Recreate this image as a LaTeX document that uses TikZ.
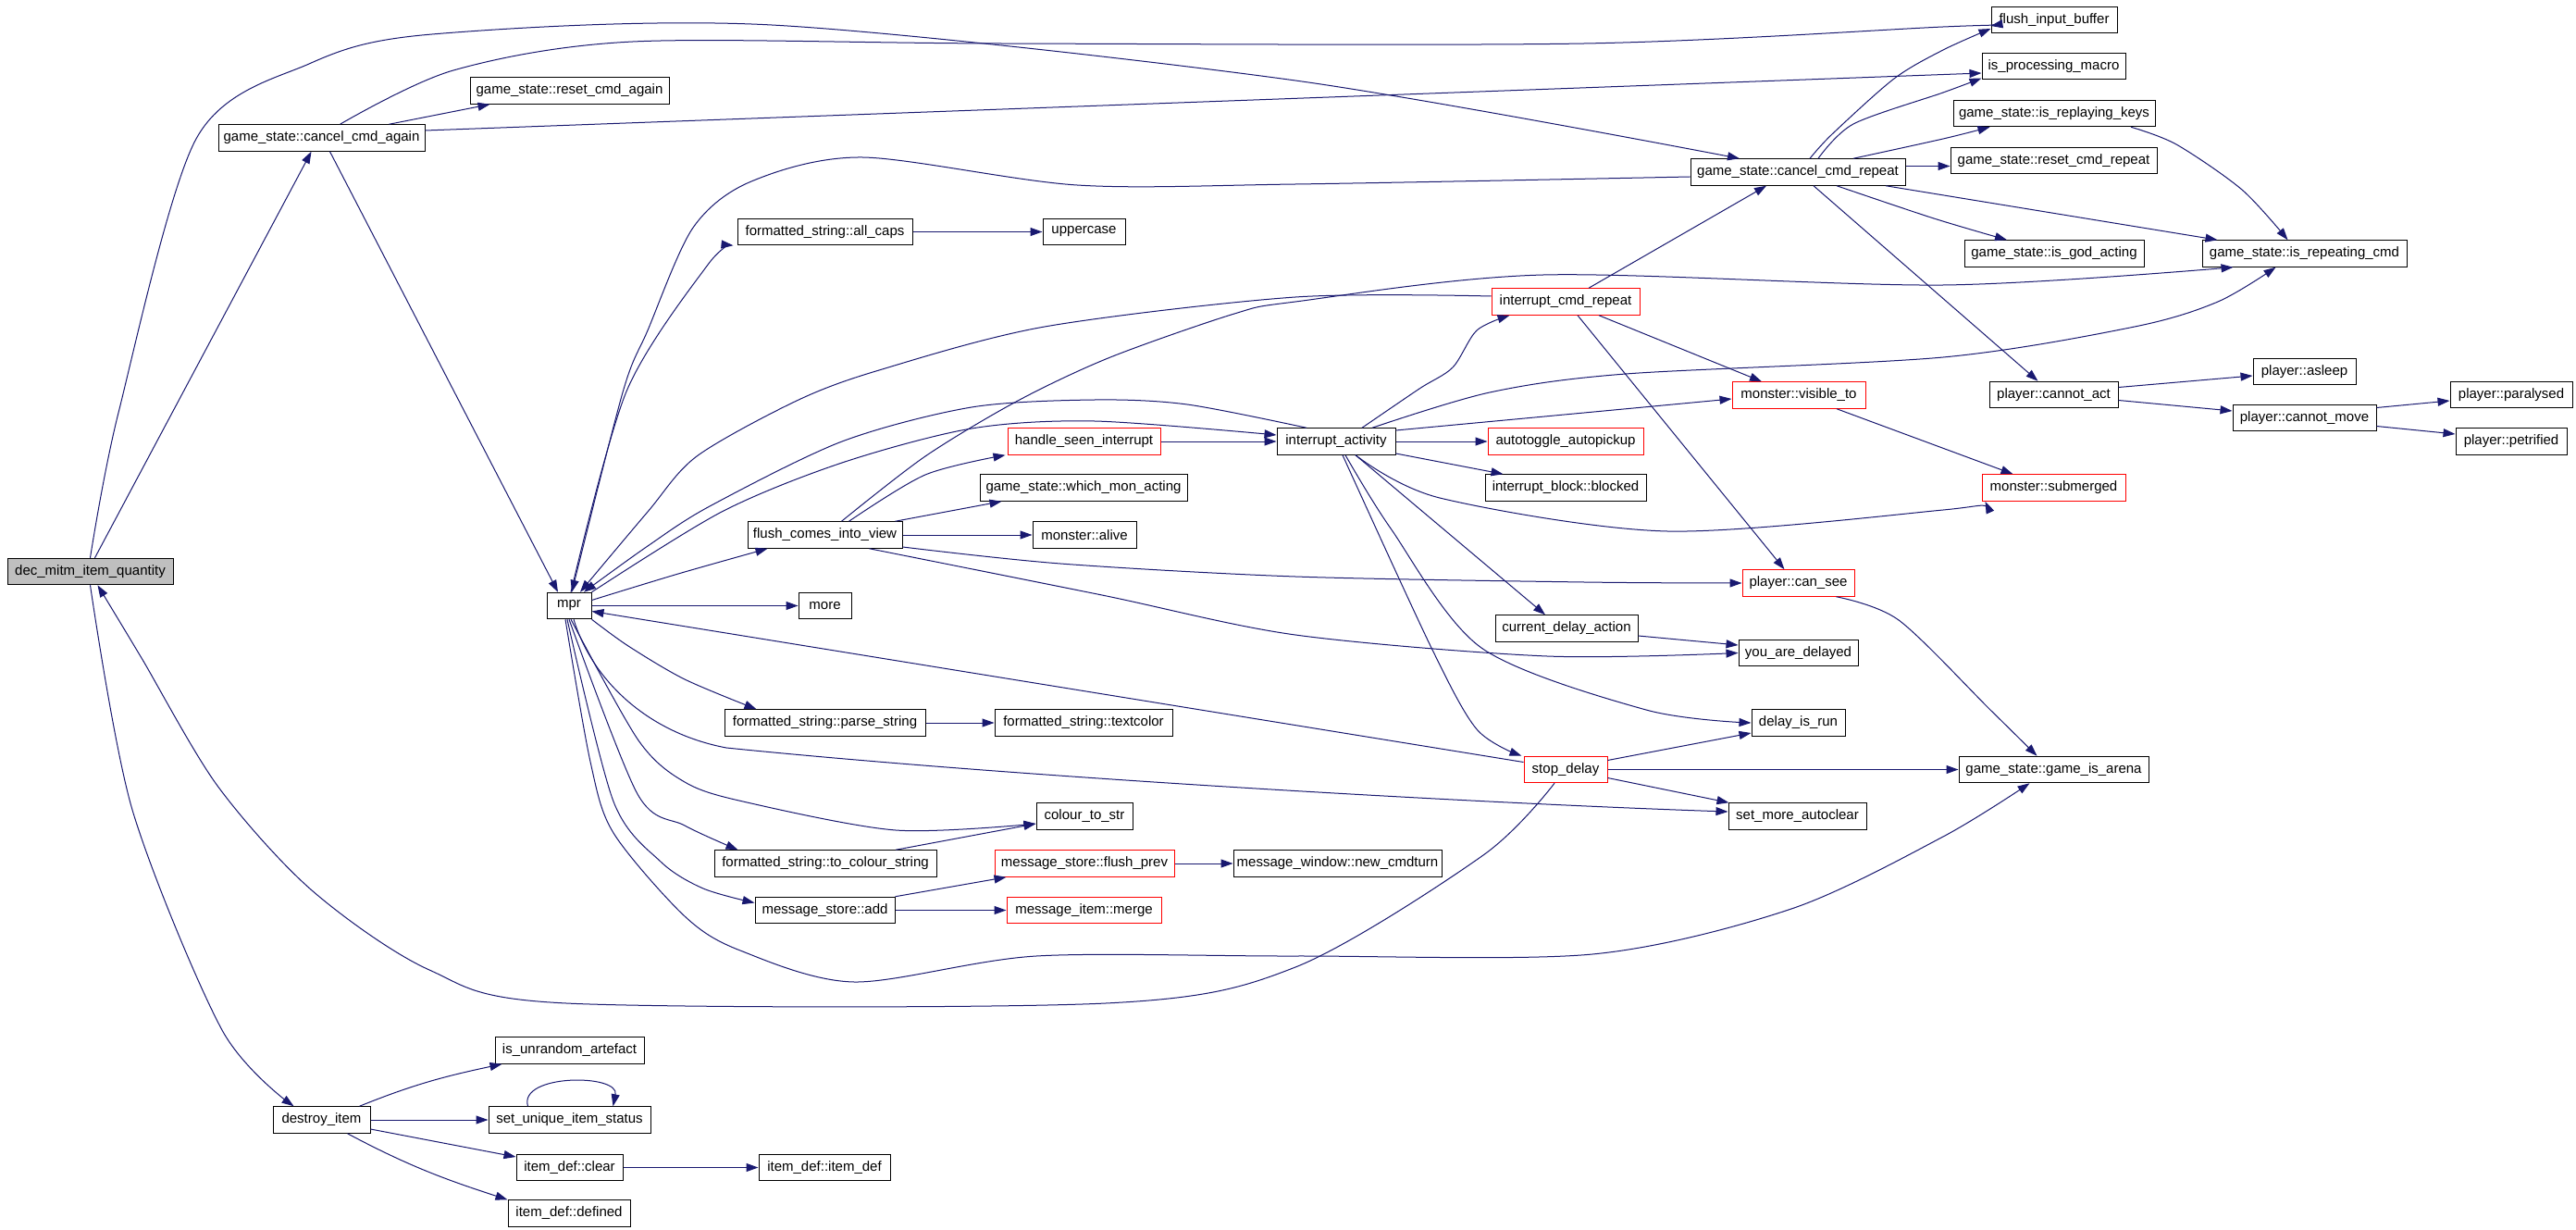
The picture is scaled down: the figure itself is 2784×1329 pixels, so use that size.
\documentclass[tikz,border=0pt]{standalone}
\usepackage{fontspec}
\setmainfont{Liberation Sans}
\usetikzlibrary{arrows.meta}
\definecolor{callblue}{HTML}{191970}
\tikzset{fn/.style={draw, line width=1pt, minimum width=#1, minimum height=28.5,
         inner sep=0pt, font=\fontsize{15}{18}\selectfont},
         fn/.default={100},
         fnred/.style={fn=#1, draw=red},
         call/.style={callblue, line width=1pt, -{Triangle[length=13pt,width=9pt]}}}

\begin{document}
\begin{tikzpicture}[x=1pt,y=-1pt]
  \fill[white] (0,0) rectangle (2784,1329);

  \node[fn=179, fill=black!25] (dec) at (97.5,617.5) {dec\_mitm\_item\_quantity};
  \node[fn=223] (cca) at (347.5,149) {game\_state::cancel\_cmd\_again};
  \node[fn=215] (rca) at (615.5,98) {game\_state::reset\_cmd\_again};
  \node[fn=48] (mpr) at (615,654.5) {mpr};
  \node[fn=105] (destroy) at (347.5,1210) {destroy\_item};
  \node[fn=161] (unrand) at (615.5,1135) {is\_unrandom\_artefact};
  \node[fn=175] (setuniq) at (615.5,1210) {set\_unique\_item\_status};
  \node[fn=115] (clear) at (615.5,1261.5) {item\_def::clear};
  \node[fn=132] (defined) at (615,1311) {item\_def::defined};
  \node[fn=189] (allcaps) at (891.5,250.5) {formatted\_string::all\_caps};
  \node[fn=89] (upper) at (1171.5,250.5) {uppercase};
  \node[fnred=165] (hsi) at (1171.5,477) {handle\_seen\_interrupt};
  \node[fn=224] (wma) at (1171,527) {game\_state::which\_mon\_acting};
  \node[fn=167] (fciv) at (891.5,578) {flush\_comes\_into\_view};
  \node[fn=112] (alive) at (1172,578) {monster::alive};
  \node[fn=57] (more) at (891.5,654.5) {more};
  \node[fn=217] (parse) at (891.5,781) {formatted\_string::parse\_string};
  \node[fn=192] (textcol) at (1171,781) {formatted\_string::textcolor};
  \node[fn=104] (c2s) at (1172,882) {colour\_to\_str};
  \node[fn=240] (tcs) at (892,933) {formatted\_string::to\_colour\_string};
  \node[fnred=194] (fprev) at (1172,933) {message\_store::flush\_prev};
  \node[fn=225] (newturn) at (1445.5,933) {message\_window::new\_cmdturn};
  \node[fn=151] (msadd) at (891.5,983.5) {message\_store::add};
  \node[fnred=167] (merge) at (1171.5,983.5) {message\_item::merge};
  \node[fn=142] (itemdef) at (891,1261.5) {item\_def::item\_def};
  \node[fn=232] (ccr) at (1943,186) {game\_state::cancel\_cmd\_repeat};
  \node[fnred=160] (icr) at (1692,326) {interrupt\_cmd\_repeat};
  \node[fnred=144] (vis) at (1944,427) {monster::visible\_to};
  \node[fn=128] (ia) at (1444,477) {interrupt\_activity};
  \node[fnred=168] (autopick) at (1692,477) {autotoggle\_autopickup};
  \node[fn=174] (blocked) at (1692,527) {interrupt\_block::blocked};
  \node[fnred=121] (cansee) at (1943.5,630) {player::can\_see};
  \node[fn=154] (cda) at (1693,679) {current\_delay\_action};
  \node[fn=129] (yad) at (1943.5,705.5) {you\_are\_delayed};
  \node[fn=101] (dir) at (1943.5,781) {delay\_is\_run};
  \node[fnred=90] (stop) at (1692,831.5) {stop\_delay};
  \node[fn=149] (sma) at (1942.5,882) {set\_more\_autoclear};
  \node[fn=136] (fib) at (2220,21.5) {flush\_input\_buffer};
  \node[fn=155] (ipm) at (2219.5,71.5) {is\_processing\_macro};
  \node[fn=218] (irk) at (2220,122.5) {game\_state::is\_replaying\_keys};
  \node[fn=223] (rcr) at (2219.5,173.5) {game\_state::reset\_cmd\_repeat};
  \node[fn=194] (igod) at (2220,274) {game\_state::is\_god\_acting};
  \node[fn=221] (irc) at (2490.5,274) {game\_state::is\_repeating\_cmd};
  \node[fn=111] (asleep) at (2490.5,401.5) {player::asleep};
  \node[fn=139] (cact) at (2219.5,426.5) {player::cannot\_act};
  \node[fn=155] (cmove) at (2490.5,451.5) {player::cannot\_move};
  \node[fn=132] (para) at (2714,426.5) {player::paralysed};
  \node[fn=120] (petri) at (2714,477) {player::petrified};
  \node[fnred=155] (subm) at (2219.5,527) {monster::submerged};
  \node[fn=205] (arena) at (2219.5,831.5) {game\_state::game\_is\_arena};

  \begin{scope}[call]
    \draw ([xshift=5]dec.north) -- ([xshift=-11]cca.south);
    \draw plot[smooth] coordinates {(dec.north) (128,446) (212,150) (334,69) (467,37) (834,27) (1400,87) ([xshift=-63]ccr.north)};
    \draw plot[smooth] coordinates {(dec.south) (143,875) (240,1113) ([xshift=-30]destroy.north)};
    \draw plot[smooth] coordinates {([xshift=-12]stop.south) (1603,924) (1400,1045) (1195,1084) (612,1084) (464,1048) (337,962) (235,849) (153,711) ([xshift=8]dec.south)};

    \draw plot[smooth] coordinates {([xshift=20]cca.north) (490,76) (684,45) (1080,47) (1712,47) (2100,29) ([yshift=-6.5]fib.west)};
    \draw ([xshift=73]cca.north) -- ([xshift=22]rca.south west);
    \draw ([yshift=8]cca.east) -- ([yshift=-7.5]ipm.west);
    \draw ([xshift=9]cca.south) -- ([xshift=-12]mpr.north);

    \draw ([xshift=41]destroy.north) to[out=22,in=192] ([xshift=8]unrand.south west);
    \draw (destroy.east) -- (setuniq.west);
    \draw ([yshift=-10]destroy.east) -- ([yshift=11.5]clear.west);
    \draw ([xshift=28]destroy.south) to[out=-28,in=162] (defined.north west);
    \draw ([xshift=-45]setuniq.north) .. controls (560,1160) and (670,1160) .. ([xshift=47]setuniq.north);
    \draw (clear.east) -- (itemdef.west);

    \draw plot[smooth] coordinates {([xshift=2]mpr.north) (677,423) (765,286) ([xshift=-4]allcaps.south west)};
    \draw plot[smooth] coordinates {([yshift=6]mpr.east) (733,620) ([xshift=22]fciv.south west)};
    \draw (mpr.east) -- (more.west);
    \draw plot[smooth] coordinates {(mpr.north east) (780,553) (910,500) (1050,463) (1183,455) ([yshift=7]ia.west)};
    \draw plot[smooth] coordinates {(mpr.south east) (679,698) (740,734) ([xshift=35]parse.north west)};
    \draw ([xshift=5]mpr.south) .. controls (640,735) and (700,792) .. (785,808) .. controls (1100,840) and (1600,868) .. ([yshift=5]sma.west);
    \draw plot[smooth] coordinates {([xshift=2]mpr.south) (690,800) (740,845) (803,866) (968,897) ([yshift=-8]c2s.west)};
    \draw plot[smooth] coordinates {(mpr.south) (689,858) (740,892) ([xshift=26]tcs.north west)};
    \draw plot[smooth] coordinates {([xshift=-2]mpr.south) (663,866) (714,931) (760,960) ([yshift=8]msadd.west)};
    \draw plot[smooth] coordinates {([xshift=-4]mpr.south) (638,823) (663,900) (740,990) (800,1027) (923,1061) (1120,1033) (1400,1033) (1721,1031) (1936,982) (2100,904) ([xshift=-26]arena.south)};

    \draw plot[smooth] coordinates {([yshift=-5]ccr.west) (1400,199) (1164,200) (932,170) (812,196) (749,246) (700,357) (673,424) ([xshift=3]mpr.north)};
    \draw plot[smooth] coordinates {([yshift=6]icr.west) (1400,321) (1129,353) (950,400) (861,433) (753,493) (700,553) ([xshift=12]mpr.north)};
    \draw plot[smooth] coordinates {([xshift=-32]ia.north) (1283,437) (1183,432) (1050,440) (910,477) (767,547) (700,590) ([xshift=16]mpr.north)};
    \draw ([yshift=8]stop.west) -- ([yshift=-6]mpr.east);

    \draw plot[smooth] coordinates {([xshift=18]fciv.north) (1000,493) (1100,433) (1200,386) (1334,339) (1400,326) (1668,297) (2100,308) ([xshift=34]irc.south west)};
    \draw plot[smooth] coordinates {([xshift=26]fciv.north) (1000,513) ([xshift=-2]hsi.south west)};
    \draw ([xshift=76]fciv.north) -- ([xshift=24]wma.south west);
    \draw (fciv.east) -- (alive.west);
    \draw plot[smooth] coordinates {([yshift=-13]fciv.east) (1146,609) (1400,623) (1712,629) (cansee.west)};
    \draw plot[smooth] coordinates {([xshift=48]fciv.south) (1191,643) (1400,686) (1672,709) (yad.west)};
    \draw (hsi.east) -- (ia.west);

    \draw plot[smooth] coordinates {([xshift=28]ia.north) (1534,420) (1570,397) (1596,357) ([xshift=20]icr.south west)};
    \draw plot[smooth] coordinates {([xshift=39]ia.north) (1610,424) (1757,404) (2100,386) (2307,353) (2397,326) ([xshift=-31]irc.south)};
    \draw plot[smooth] coordinates {([yshift=12]ia.east) (1712,446) ([yshift=-4]vis.west)};
    \draw (ia.east) -- (autopick.west);
    \draw ([yshift=-13]ia.east) -- ([xshift=20]blocked.north west);
    \draw plot[smooth] coordinates {([xshift=21]ia.south) (1556,538) (1802,574) (2100,551) ([xshift=4]subm.south west)};
    \draw ([xshift=21]ia.south) -- ([xshift=-23]cda.north);
    \draw plot[smooth] coordinates {([xshift=7]ia.south) (1547,700) (1596,788) ([xshift=-2]stop.north west)};
    \draw plot[smooth] coordinates {([xshift=10]ia.south) (1503,571) (1601,700) (1779,767) (dir.west)};

    \draw ([xshift=25]icr.north) -- ([xshift=-34]ccr.south);
    \draw ([xshift=36]icr.south) -- ([xshift=-40]vis.north);
    \draw ([xshift=13]icr.south) -- ([xshift=-15]cansee.north);
    \draw ([xshift=41]vis.south) -- ([xshift=-44]subm.north);
    \draw plot[smooth] coordinates {([xshift=41]cansee.south) (2052,670) (2151,767) ([xshift=-18]arena.north)};

    \draw ([yshift=-8]cda.east) -- ([yshift=8.5]yad.west);
    \draw ([yshift=10]stop.east) -- ([yshift=-11]dir.west);
    \draw (stop.east) -- (arena.west);
    \draw ([yshift=-9]stop.east) -- ([xshift=1]sma.north west);

    \draw plot[smooth] coordinates {([xshift=13]ccr.north) (1980,145) (2047,85) (2100,54) ([yshift=-9.5]fib.west)};
    \draw plot[smooth] coordinates {([xshift=22]ccr.north) (2003,134) (2100,100) ([yshift=-13]ipm.west)};
    \draw plot[smooth] coordinates {([xshift=60]ccr.north) (2100,150) ([xshift=40]irk.south west)};
    \draw ([yshift=6.5]ccr.east) -- ([yshift=-6]rcr.west);
    \draw plot[smooth] coordinates {([xshift=42]ccr.south) (2090,236) ([xshift=-51]igod.north)};
    \draw ([xshift=95]ccr.south) -- ([xshift=17]irc.north west);
    \draw ([xshift=17]ccr.south) -- ([xshift=-17]cact.north);
    \draw plot[smooth] coordinates {([xshift=83]irk.south) (2352,156) (2423,205) ([xshift=-18]irc.north)};

    \draw ([yshift=8]cact.east) -- ([yshift=-4.5]asleep.west);
    \draw ([yshift=-6]cact.east) -- ([yshift=7.5]cmove.west);
    \draw ([yshift=11]cmove.east) -- ([yshift=-6.5]para.west);
    \draw ([yshift=-9]cmove.east) -- ([yshift=8]petri.west);

    \draw (allcaps.east) -- (upper.west);
    \draw (parse.east) -- (textcol.west);
    \draw ([xshift=76]tcs.north) -- ([yshift=-8]c2s.west);
    \draw ([xshift=76]msadd.north) -- ([xshift=13]fprev.south west);
    \draw (msadd.east) -- (merge.west);
    \draw (fprev.east) -- (newturn.west);
  \end{scope}
\end{tikzpicture}
\end{document}
